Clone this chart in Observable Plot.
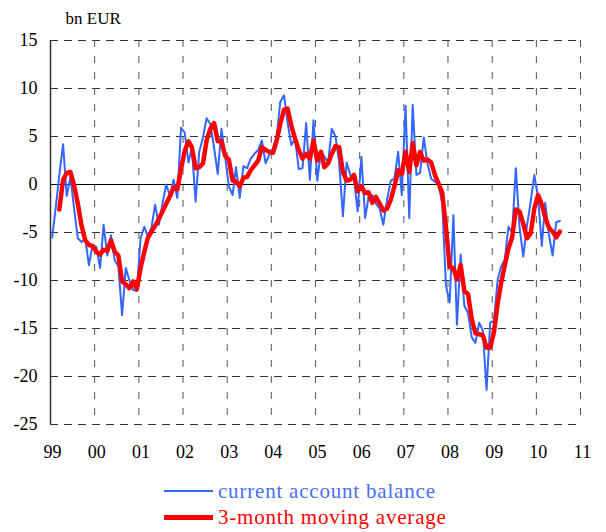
<!DOCTYPE html>
<html>
<head>
<meta charset="utf-8">
<script src="https://cdn.jsdelivr.net/npm/d3@7"></script>
<script src="https://cdn.jsdelivr.net/npm/@observablehq/plot@0.6"></script>
<style>
  html, body { margin: 0; padding: 0; background: #fff; }
  #wrap { position: relative; width: 606px; height: 532px; font-family: "Liberation Serif", "Times New Roman", Times, serif; }
  .leg { position: absolute; left: 164px; display: flex; align-items: center; height: 24px; font-size: 21px; letter-spacing: 0.8px; white-space: nowrap; }
  .sw { display: inline-block; width: 49px; margin-right: 5px; }
</style>
</head>
<body>
<div id="wrap">
  <div id="chart"></div>
  <div class="leg" style="top:479px;color:#4a6ef5"><span class="sw" style="height:2px;background:#3366ff"></span>current account balance</div>
  <div class="leg" style="top:505px;color:#ff0000"><span class="sw" style="height:5px;background:#ff0000"></span>3-month moving average</div>
</div>
<script>
const startYear = 1999;
const yTicks = [-25, -20, -15, -10, -5, 0, 5, 10, 15];
const xTickYears = [1999, 2000, 2001, 2002, 2003, 2004, 2005, 2006, 2007, 2008, 2009, 2010, 2011];

// monthly current account balance, Jan 1999 onwards (bn EUR)
const currentAccount = [
  -5.5, -2.2, 1.0, 4.2, -1.2, 0.8, -2.5, -5.6, -6.0, -5.6,
  -8.4, -6.3, -6.5, -8.7, -4.2, -7.4, -5.3, -7.9, -8.5, -13.6,
  -8.7, -10.0, -11.0, -11.1, -5.6, -4.4, -5.4, -4.5, -2.1, -4.2,
  -2.0, 0.0, -1.2, 0.5, -1.4, 5.9, 5.4, 2.3, 3.8, -1.8,
  3.4, 4.9, 6.9, 6.3, 3.8, 1.1, 5.8, 2.9, -0.2, -1.1,
  1.8, -1.4, 1.9, 1.7, 2.7, 3.2, 3.6, 4.6, 2.2, 3.1,
  3.8, 5.0, 8.6, 9.3, 6.4, 4.1, 4.8, 1.6, 1.7, 6.4,
  0.5, 6.7, 0.4, 3.5, 2.9, 2.3, 5.8, 5.0, 2.3, -3.3,
  2.3, 1.0, 0.6, -2.8, 2.9, -3.5, -1.3, -1.1, -2.0, -2.5,
  -4.2, -1.6, 0.4, 0.6, 3.4, -1.1, 8.2, -3.5, 8.3, 1.0,
  1.2, 4.9, 2.2, 0.6, 0.3, 0.0, -2.0, -10.5, -12.3, -3.2,
  -14.6, -7.3, -12.6, -13.4, -15.9, -16.5, -14.4, -15.2, -21.4, -14.4,
  -14.2, -9.9, -8.6, -7.8, -4.4, -5.0, 1.7, -4.5, -7.5, -4.3,
  -1.8, 1.0, -1.3, -6.4, -1.9, -5.2, -7.4, -3.9, -3.8
];

// 3-month moving average, Mar 1999 onwards (bn EUR)
const maStartMonth = 2;
const movingAverage = [
  -2.6, 0.5, 1.2, 1.3, -0.1, -2.0, -4.3, -5.8,
  -6.3, -6.4, -7.0, -7.3, -6.8, -6.9, -5.8, -7.0, -7.4, -10.1,
  -10.4, -10.8, -10.1, -10.9, -8.7, -7.0, -5.6, -4.9, -4.3, -3.6,
  -2.8, -2.0, -1.2, -0.3, -0.5, 1.6, 3.5, 4.5, 3.9, 1.7,
  1.8, 2.2, 4.6, 5.8, 6.4, 4.5, 4.5, 3.0, 2.6, 0.4,
  0.3, -0.2, 0.7, 0.8, 1.5, 2.0, 2.5, 3.9, 3.6, 3.4,
  3.3, 4.6, 6.3, 7.8, 7.9, 6.1, 4.8, 3.6, 2.7, 3.2,
  2.7, 4.6, 2.5, 3.4, 1.8, 2.2, 3.2, 4.0, 3.9, 1.3,
  0.4, 0.5, 1.0, -0.7, -0.2, -0.9, -0.8, -1.9, -1.3, -2.0,
  -2.7, -2.5, -1.6, -0.2, 1.5, 1.1, 3.4, 1.3, 4.3, 2.0,
  3.4, 2.5, 2.6, 2.3, 1.0, 0.1, -0.9, -4.4, -8.6, -8.7,
  -9.9, -8.4, -11.1, -11.4, -14.0, -15.5, -15.6, -15.7, -17.0, -17.0,
  -15.4, -12.4, -10.3, -8.4, -6.7, -5.5, -2.6, -2.8, -4.1, -5.6,
  -5.1, -2.5, -1.1, -2.1, -3.4, -4.5, -4.9, -5.5, -4.9
];

const serifFont = '"Liberation Serif", "Times New Roman", Times, serif';
const monthDate = i => new Date(Date.UTC(startYear, i, 15));
const blueData = currentAccount.map((v, i) => ({date: monthDate(i), value: v}));
const redData = movingAverage.map((v, i) => ({date: monthDate(i + maStartMonth), value: v}));
const yearDates = xTickYears.map(y => new Date(Date.UTC(y, 0, 1)));

const chart = Plot.plot({
  width: 606,
  height: 470,
  marginLeft: 50,
  marginRight: 26,
  marginTop: 40,
  marginBottom: 46,
  style: {fontFamily: serifFont, fontSize: "18px", color: "#000", background: "white"},
  x: {type: "utc", domain: [yearDates[0], yearDates[yearDates.length - 1]]},
  y: {domain: [-25, 15]},
  marks: [
    Plot.gridY(yTicks, {stroke: "#333", strokeOpacity: 1, strokeDasharray: "8,6"}),
    Plot.gridX(yearDates, {stroke: "#555", strokeOpacity: 1, strokeDasharray: "7,9"}),
    Plot.ruleY([0], {stroke: "#000", strokeWidth: 1}),
    Plot.ruleX([yearDates[0]], {stroke: "#333", strokeWidth: 1.5}),
    Plot.line(blueData, {x: "date", y: "value", stroke: "#3366ff", strokeWidth: 2}),
    Plot.line(redData, {x: "date", y: "value", stroke: "#ff0000", strokeWidth: 4.5, strokeLinejoin: "round"}),
    Plot.axisY(yTicks, {tickSize: 0, tickPadding: 13, tickFormat: d => String(d), fontSize: 18, fontFamily: serifFont, label: null}),
    Plot.axisX(yearDates, {tickSize: 0, tickPadding: 21, dx: 2, fontSize: 18, fontFamily: serifFont, label: null,
      tickFormat: d => String(d.getUTCFullYear() % 100).padStart(2, "0")}),
    Plot.text(["bn EUR"], {text: d => d, frameAnchor: "top-left", dx: 15, dy: -22, textAnchor: "start", lineAnchor: "middle", fontSize: 17, fontFamily: serifFont})
  ]
});
document.getElementById("chart").appendChild(chart);
</script>
</body>
</html>
